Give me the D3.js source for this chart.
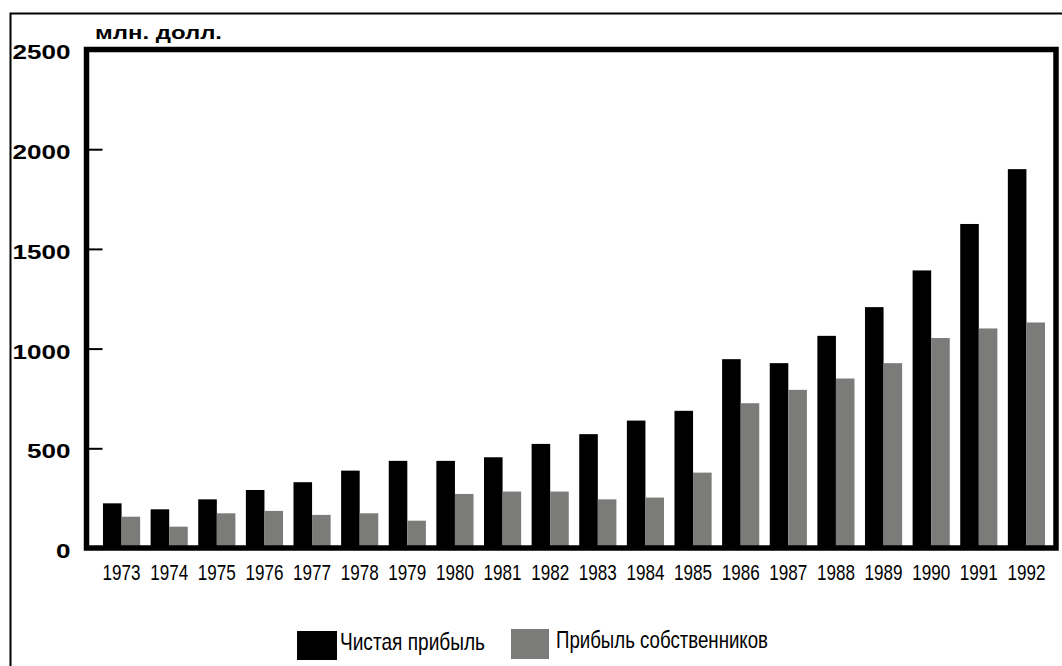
<!DOCTYPE html>
<html>
<head>
<meta charset="utf-8">
<script src="https://cdn.jsdelivr.net/npm/d3@7"></script>
<style>
  html, body { margin: 0; padding: 0; background: #fff; }
  svg { display: block; font-family: "Liberation Sans", Arial, sans-serif; }
</style>
</head>
<body>
<svg id="chart" width="1062" height="666"></svg>
<script>
// Coca-Cola: net profit vs. owner earnings, million dollars
const years = ["1973","1974","1975","1976","1977","1978","1979","1980","1981","1982",
               "1983","1984","1985","1986","1987","1988","1989","1990","1991","1992"];
const netProfit = [224, 194, 244, 291, 330, 388, 437, 437, 455, 522,
                   571, 639, 688, 947, 927, 1064, 1208, 1392, 1625, 1900];
const ownerEarnings = [157, 107, 174, 186, 166, 174, 137, 271, 283, 283,
                       244, 253, 378, 726, 793, 850, 927, 1053, 1101, 1131];
const seriesNames = ["Чистая прибыль", "Прибыль собственников"];
const seriesColors = ["#000000", "#7b7c79"];
const yTicks = [0, 500, 1000, 1500, 2000, 2500];
const unitLabel = "млн. долл.";

const svg = d3.select("#chart");

// outer thin frame
svg.append("rect")
  .attr("x", 10.5).attr("y", 13.5)
  .attr("width", 1200).attr("height", 800)
  .attr("fill", "none").attr("stroke", "#000").attr("stroke-width", 2);

const plot = { left: 86.5, right: 1056, top: 49.5, bottom: 548 };

const y = d3.scaleLinear().domain([0, 2500]).range([plot.bottom, plot.top]);
const x = d3.scaleBand().domain(years).range([103, 1045]).paddingInner(0.22).paddingOuter(0);
const xs = d3.scaleBand().domain([0, 1]).range([0, x.bandwidth()]).padding(0);

const rows = years.map((yr, i) => ({ year: yr, values: [netProfit[i], ownerEarnings[i]] }));

// bars
const groups = svg.append("g").selectAll("g")
  .data(rows).join("g")
  .attr("transform", d => `translate(${x(d.year)},0)`);

groups.selectAll("rect")
  .data(d => d.values.map((v, k) => ({ v, k })))
  .join("rect")
  .attr("x", d => xs(d.k))
  .attr("width", xs.bandwidth())
  .attr("y", d => y(d.v))
  .attr("height", d => y(0) - y(d.v))
  .attr("fill", d => seriesColors[d.k]);

// y axis: ticks point into the plot, labels on the left
const yAxis = svg.append("g")
  .attr("transform", `translate(${plot.left},0)`)
  .call(d3.axisLeft(y).tickValues(yTicks).tickFormat(d3.format("d"))
          .tickSizeInner(-16).tickSizeOuter(0).tickPadding(16))
  .call(g => g.select(".domain").remove());
yAxis.selectAll(".tick line").attr("stroke", "#000").attr("stroke-width", 2);
yAxis.selectAll(".tick text")
  .attr("fill", "#000")
  .attr("dy", "0.45em")
  .style("font-size", "21px")
  .style("font-weight", "bold")
  .style("font-family", "'Liberation Sans', Arial, sans-serif")
  .attr("textLength", d => String(d).length * 14.5)
  .attr("lengthAdjust", "spacingAndGlyphs");

// x axis: year labels
const xAxis = svg.append("g")
  .attr("transform", `translate(0,${plot.bottom})`)
  .call(d3.axisBottom(x).tickSize(0).tickPadding(16))
  .call(g => g.select(".domain").remove());
xAxis.selectAll(".tick text")
  .attr("fill", "#000")
  .style("font-size", "22px")
  .style("font-family", "'Liberation Sans', Arial, sans-serif")
  .attr("textLength", 38)
  .attr("lengthAdjust", "spacingAndGlyphs");

// heavy plot frame
svg.append("rect")
  .attr("x", plot.left).attr("y", plot.top)
  .attr("width", plot.right - plot.left).attr("height", plot.bottom - plot.top)
  .attr("fill", "none").attr("stroke", "#000").attr("stroke-width", 5.5);

// unit label
svg.append("text")
  .attr("x", 95).attr("y", 39)
  .style("font-size", "18px").style("font-weight", "bold")
  .attr("textLength", 127).attr("lengthAdjust", "spacingAndGlyphs")
  .text(unitLabel);

// legend
const legendItems = [
  { rx: 297, ry: 631, rw: 40, rh: 29, tx: 340, ty: 650, tl: 145 },
  { rx: 511, ry: 629, rw: 38, rh: 30, tx: 556, ty: 648, tl: 212 }
];
const legend = svg.append("g");
legendItems.forEach((it, k) => {
  legend.append("rect")
    .attr("x", it.rx).attr("y", it.ry).attr("width", it.rw).attr("height", it.rh)
    .attr("fill", seriesColors[k]);
  legend.append("text")
    .attr("x", it.tx).attr("y", it.ty)
    .style("font-size", "24px")
    .attr("textLength", it.tl).attr("lengthAdjust", "spacingAndGlyphs")
    .text(seriesNames[k]);
});
</script>
</body>
</html>
